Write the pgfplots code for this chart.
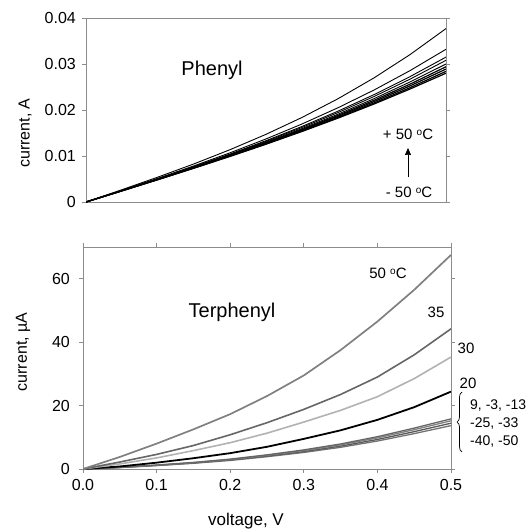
\documentclass[border=0pt]{standalone}
\usepackage{pgfplots}
\pgfplotsset{compat=1.18}
\usepackage{fontspec}
\setmainfont{Liberation Sans}
\usetikzlibrary{decorations.pathreplacing,arrows.meta}
\newcommand{\fs}[1]{\fontsize{#1}{#1}\selectfont}
\newcommand{\dg}{\raisebox{0.45ex}{\fontsize{10}{10}\selectfont o}}
\begin{document}
\begin{tikzpicture}[x=1pt,y=1pt]
\useasboundingbox (0,0) rectangle (532,531);
% ---------------- top panel ----------------
\begin{axis}[
  at={(86pt,329pt)}, anchor=south west,
  scale only axis, width=360pt, height=184pt,
  xmin=0, xmax=0.5, ymin=0, ymax=0.04,
  scaled y ticks=false,
  axis line style={black!45, line width=0.8pt},
  xtick=\empty,
  ytick={0,0.01,0.02,0.03,0.04},
  yticklabels={0,0.01,0.02,0.03,0.04},
  yticklabel style={font=\fs{16}, inner sep=0pt, xshift=-6pt},
  tick align=outside, major tick length=4pt,
  tick style={black!45, line width=0.8pt},
  ylabel={current, A},
  ylabel style={font=\fs{16}, at={(axis description cs:-0.169,0.375)}, anchor=center},
  clip=true,
]
\addplot[black, line width=0.9pt] coordinates {(0,0)(0.05,0.00268)(0.1,0.00542)(0.15,0.00829)(0.2,0.01137)(0.25,0.01471)(0.3,0.01838)(0.35,0.02245)(0.4,0.02698)(0.45,0.03204)(0.5,0.03770)};
\addplot[black, line width=0.9pt] coordinates {(0,0)(0.05,0.00256)(0.1,0.00516)(0.15,0.00786)(0.2,0.01069)(0.25,0.01371)(0.3,0.01696)(0.35,0.02049)(0.4,0.02434)(0.45,0.02856)(0.5,0.0332)};
\addplot[black, line width=0.9pt] coordinates {(0,0)(0.05,0.00251)(0.1,0.00506)(0.15,0.00769)(0.2,0.01043)(0.25,0.01333)(0.3,0.01642)(0.35,0.01975)(0.4,0.02334)(0.45,0.02725)(0.5,0.0315)};
\addplot[black, line width=0.9pt] coordinates {(0,0)(0.05,0.00249)(0.1,0.00502)(0.15,0.00762)(0.2,0.01032)(0.25,0.01317)(0.3,0.01620)(0.35,0.01944)(0.4,0.02293)(0.45,0.02670)(0.5,0.0308)};
\addplot[black, line width=0.9pt] coordinates {(0,0)(0.05,0.00247)(0.1,0.00497)(0.15,0.00754)(0.2,0.01020)(0.25,0.01299)(0.3,0.01595)(0.35,0.01909)(0.4,0.02246)(0.45,0.02609)(0.5,0.0300)};
\addplot[black, line width=1.2pt] coordinates {(0,0)(0.05,0.00245)(0.1,0.00494)(0.15,0.00748)(0.2,0.01011)(0.25,0.01286)(0.3,0.01576)(0.35,0.01883)(0.4,0.02211)(0.45,0.02562)(0.5,0.0294)};
\addplot[black, line width=1.2pt] coordinates {(0,0)(0.05,0.00244)(0.1,0.00492)(0.15,0.00744)(0.2,0.01005)(0.25,0.01276)(0.3,0.01561)(0.35,0.01862)(0.4,0.02182)(0.45,0.02524)(0.5,0.0289)};
\addplot[black, line width=1.2pt] coordinates {(0,0)(0.05,0.00243)(0.1,0.00488)(0.15,0.00739)(0.2,0.00997)(0.25,0.01264)(0.3,0.01545)(0.35,0.01840)(0.4,0.02153)(0.45,0.02485)(0.5,0.0284)};
\addplot[black, line width=1.2pt] coordinates {(0,0)(0.05,0.00242)(0.1,0.00486)(0.15,0.00735)(0.2,0.00991)(0.25,0.01256)(0.3,0.01533)(0.35,0.01823)(0.4,0.02130)(0.45,0.02456)(0.5,0.0280)};
\end{axis}
\node[font=\fs{20}] at (212,461) {Phenyl};
\node[font=\fs{15}] at (408,397) {+ 50 \dg C};
\draw[black, line width=0.7pt, -{Triangle[length=7pt,width=6pt]}] (408,354) -- (408,383);
\node[font=\fs{15}] at (409,339) {- 50 \dg C};
% ---------------- bottom panel ----------------
\begin{axis}[
  at={(83pt,62pt)}, anchor=south west,
  scale only axis, width=368pt, height=222pt,
  xmin=0, xmax=0.5, ymin=0, ymax=70,
  axis line style={black!45, line width=0.8pt},
  xtick={0,0.1,0.2,0.3,0.4,0.5},
  xticklabels={0.0,0.1,0.2,0.3,0.4,0.5},
  ytick={0,20,40,60},
  yticklabels={0,20,40,60},
  xticklabel style={font=\fs{16}, inner sep=0pt, yshift=-6pt},
  yticklabel style={font=\fs{16}, inner sep=0pt, xshift=-9pt},
  tick align=outside, major tick length=4pt,
  tick style={black!45, line width=0.8pt},
  ylabel={current, \textmu A},
  ylabel style={font=\fs{16}, at={(axis description cs:-0.163,0.527)}, anchor=center},
  xlabel={voltage, V},
  xlabel style={font=\fs{17}, at={(axis description cs:0.443,-0.234)}, anchor=center},
  clip=true,
]
% band 9 ... -50
\addplot[black!55, line width=1.3pt] coordinates {(0,0)(0.05,0.45)(0.1,1.08)(0.15,1.8)(0.2,2.7)(0.25,3.87)(0.3,5.22)(0.35,6.84)(0.4,8.82)(0.45,11.16)(0.5,13.68)};
\addplot[black!65, line width=1.3pt] coordinates {(0,0)(0.05,0.48)(0.1,1.14)(0.15,1.9)(0.2,2.85)(0.25,4.09)(0.3,5.51)(0.35,7.22)(0.4,9.31)(0.45,11.78)(0.5,14.44)};
\addplot[black!50, line width=1.3pt] coordinates {(0,0)(0.05,0.5)(0.1,1.2)(0.15,2.0)(0.2,3.0)(0.25,4.3)(0.3,5.8)(0.35,7.6)(0.4,9.8)(0.45,12.4)(0.5,15.2)};
\addplot[black!60, line width=1.3pt] coordinates {(0,0)(0.05,0.52)(0.1,1.25)(0.15,2.08)(0.2,3.12)(0.25,4.47)(0.3,6.03)(0.35,7.9)(0.4,10.19)(0.45,12.9)(0.5,15.81)};
% 20
\addplot[black, line width=1.8pt] coordinates {(0,0)(0.05,0.8)(0.1,2.0)(0.15,3.4)(0.2,5.0)(0.25,7.0)(0.3,9.5)(0.35,12.2)(0.4,15.5)(0.45,19.5)(0.5,24.4)};
% 30
\addplot[black!30, line width=1.6pt] coordinates {(0,0)(0.05,1.6)(0.1,3.5)(0.15,5.8)(0.2,8.3)(0.25,11.3)(0.3,14.8)(0.35,18.5)(0.4,22.8)(0.45,28.5)(0.5,35.3)};
% 35
\addplot[black!60, line width=1.6pt] coordinates {(0,0)(0.05,2.2)(0.1,4.6)(0.15,7.4)(0.2,10.8)(0.25,14.6)(0.3,18.8)(0.35,23.5)(0.4,29.0)(0.45,36.0)(0.5,44.2)};
% 50
\addplot[black!50, line width=1.7pt] coordinates {(0,0)(0.05,3.8)(0.1,8.0)(0.15,12.5)(0.2,17.3)(0.25,23.0)(0.3,29.5)(0.35,37.5)(0.4,46.5)(0.45,56.5)(0.5,67.5)};
\end{axis}
\node[font=\fs{20}] at (232,219) {Terphenyl};
\node[font=\fs{15}] at (388,258) {50 \dg C};
\node[font=\fs{15}] at (436,219) {35};
\node[font=\fs{15}] at (466,183) {30};
\node[font=\fs{15}] at (468,148) {20};
\draw[black, line width=0.7pt, decorate, decoration={brace, amplitude=5pt}] (462,79) -- (462,139);
\node[font=\fs{14}, anchor=west, inner sep=0pt] at (470,125) {9, -3, -13};
\node[font=\fs{14}, anchor=west, inner sep=0pt] at (470,107) {-25, -33};
\node[font=\fs{14}, anchor=west, inner sep=0pt] at (470,89) {-40, -50};
\end{tikzpicture}
\end{document}
